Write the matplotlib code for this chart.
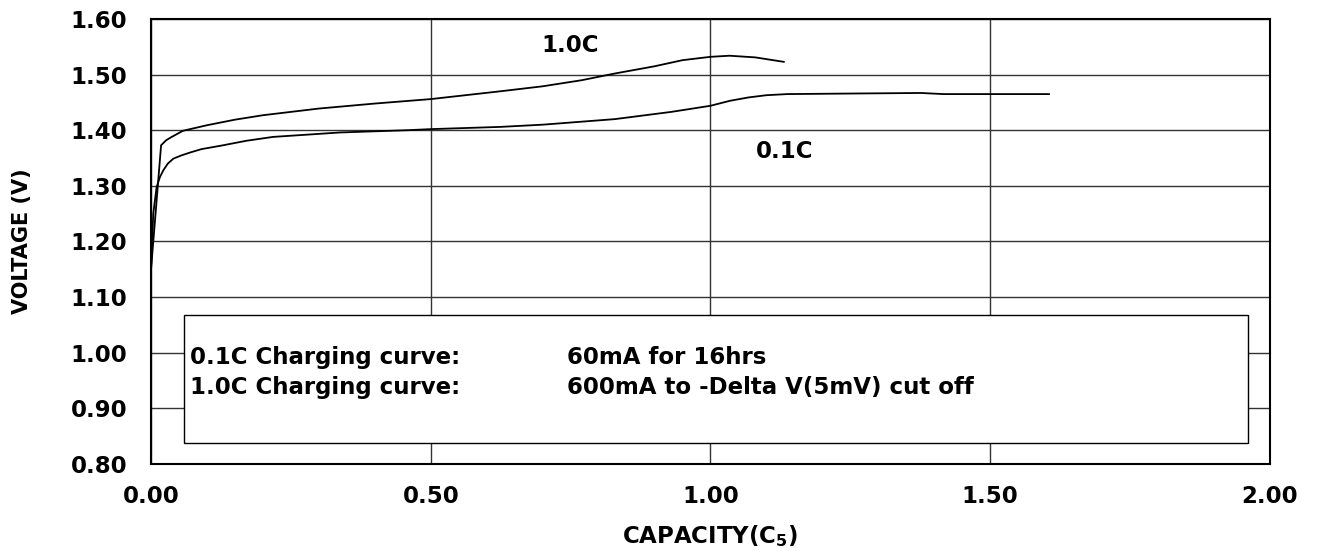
import matplotlib
matplotlib.use("Agg")
import matplotlib.pyplot as plt
from matplotlib import font_manager
from matplotlib.patches import Rectangle

# 1.0C charge curve (capacity in C5, voltage in V)
cap_10 = [0.0, 0.018, 0.027, 0.037, 0.057, 0.10, 0.15, 0.20, 0.30, 0.40, 0.50, 0.624,
          0.70, 0.77, 0.829, 0.90, 0.95, 1.0, 1.034, 1.08, 1.131]
volt_10 = [1.15, 1.373, 1.382, 1.388, 1.399, 1.409, 1.419, 1.427, 1.439, 1.448, 1.456,
           1.470, 1.479, 1.490, 1.502, 1.515, 1.526, 1.532, 1.534, 1.531, 1.523]

# 0.1C charge curve
cap_01 = [0.0, 0.004, 0.010, 0.016, 0.022, 0.030, 0.040, 0.055, 0.070, 0.09, 0.129,
          0.17, 0.218, 0.338, 0.457, 0.50, 0.624, 0.70, 0.829, 0.93, 1.0, 1.035,
          1.068, 1.10, 1.137, 1.25, 1.376, 1.417, 1.605]
volt_01 = [1.15, 1.25, 1.298, 1.316, 1.328, 1.340, 1.349, 1.355, 1.360, 1.366, 1.373,
           1.381, 1.388, 1.396, 1.400, 1.402, 1.406, 1.410, 1.420, 1.433, 1.444, 1.453,
           1.459, 1.463, 1.465, 1.466, 1.467, 1.465, 1.465]

x_ticks = [0.0, 0.5, 1.0, 1.5, 2.0]
y_ticks = [0.8, 0.9, 1.0, 1.1, 1.2, 1.3, 1.4, 1.5, 1.6]

note_left = ["0.1C Charging curve:", "1.0C Charging curve:"]
note_right = ["60mA for 16hrs", "600mA to -Delta V(5mV) cut off"]

installed = {f.name for f in font_manager.fontManager.ttflist}
main_font = "DejaVu Sans"
if "Liberation Sans Narrow" in installed:
    ylab_font, ylab_size = "Liberation Sans Narrow", 19.5
else:
    ylab_font, ylab_size = "DejaVu Sans", 15

fs = 16.5

plt.rcParams["font.family"] = [main_font]
plt.rcParams["mathtext.fontset"] = "custom"
plt.rcParams["mathtext.rm"] = "DejaVu Sans:bold"
plt.rcParams["mathtext.bf"] = "DejaVu Sans:bold"

fig = plt.figure(figsize=(13.19, 5.51), dpi=100)
ax = fig.add_axes([0.1145, 0.158, 0.8483, 0.8075])

ax.plot(cap_10, volt_10, color="black", lw=1.3, zorder=3)
ax.plot(cap_01, volt_01, color="black", lw=1.3, zorder=3)

ax.set_xlim(0, 2.0)
ax.set_ylim(0.8, 1.6)
ax.set_xticks(x_ticks)
ax.set_yticks(y_ticks)
ax.set_xticklabels(["%.2f" % v for v in x_ticks])
ax.set_yticklabels(["%.2f" % v for v in y_ticks])
ax.tick_params(length=0, labelsize=fs)
ax.tick_params(axis="y", pad=17)
ax.tick_params(axis="x", pad=15)
for lab in ax.get_xticklabels() + ax.get_yticklabels():
    lab.set_fontweight("bold")

ax.grid(True, color="#333333", lw=1.0)
ax.set_axisbelow(True)
for sp in ax.spines.values():
    sp.set_linewidth(1.5)
    sp.set_zorder(5)

ax.set_xlabel(r"CAPACITY(C$_{5}$)", fontsize=fs, fontweight="bold", va="center")
ax.xaxis.set_label_coords(0.5, -0.162)
ax.set_ylabel("VOLTAGE (V)", fontsize=ylab_size, fontweight="bold",
              family=[ylab_font, "DejaVu Sans"], va="center")
ax.yaxis.set_label_coords(-0.115, 0.5)

# curve labels
ax.text(0.749, 1.553, "1.0C", fontsize=fs, fontweight="bold", ha="center", va="center")
ax.text(1.133, 1.361, "0.1C", fontsize=fs, fontweight="bold", ha="center", va="center")

# note box
box = Rectangle((0.059, 0.837), 1.902, 0.231, facecolor="white",
                edgecolor="black", lw=1.0, zorder=4)
ax.add_patch(box)
for i, (a, b) in enumerate(zip(note_left, note_right)):
    yy = 0.992 - i * 0.054
    ax.text(0.070, yy, a, fontsize=fs, fontweight="bold", va="center", zorder=6)
    ax.text(0.744, yy, b, fontsize=fs, fontweight="bold", va="center", zorder=6)

fig.savefig("out.png", dpi=100)
